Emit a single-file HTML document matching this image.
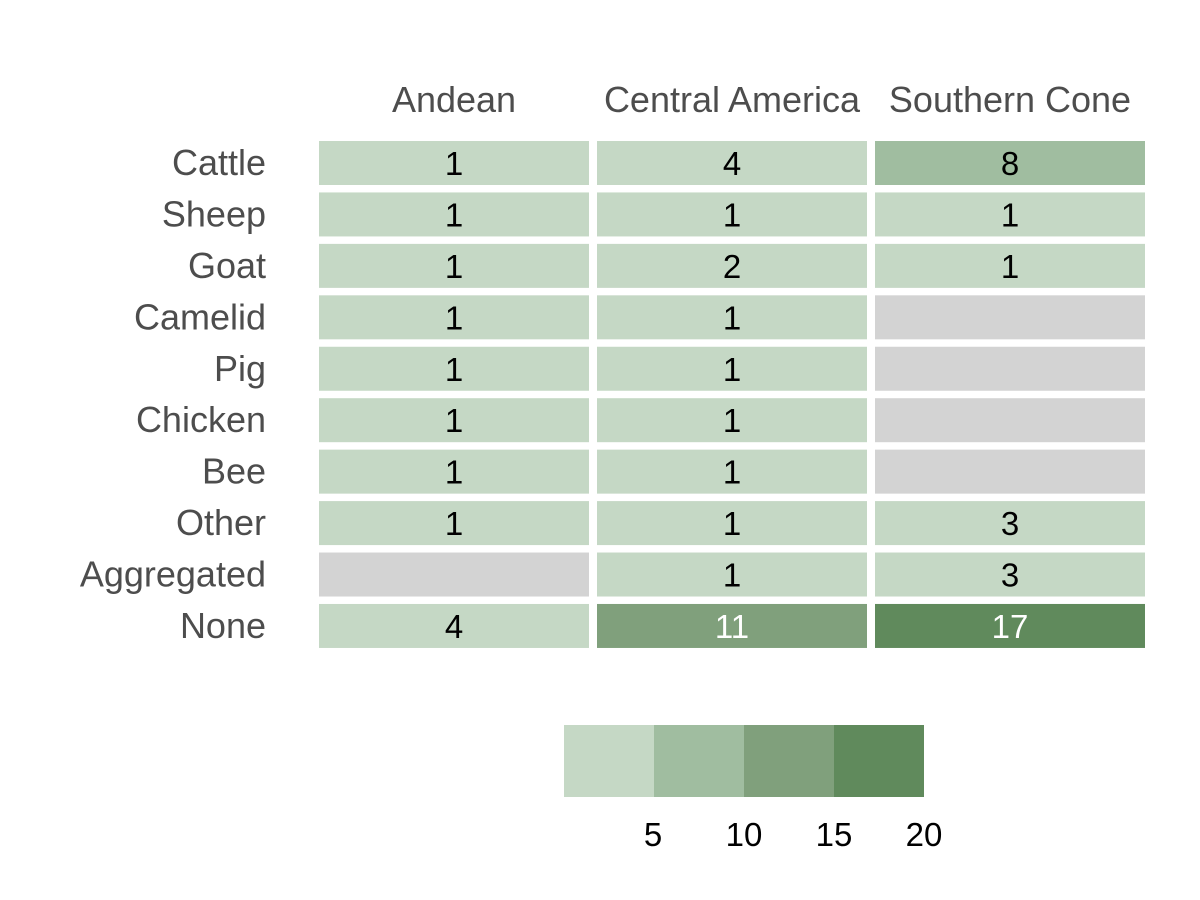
<!DOCTYPE html>
<html><head><meta charset="utf-8"><style>
html,body{margin:0;padding:0;background:#fff;}
svg{display:block;font-family:"Liberation Sans",sans-serif;}
</style></head><body>
<svg id="chart" width="1200" height="900" viewBox="0 0 1200 900"></svg>
<script>
const regions = ["Andean","Central America","Southern Cone"];
const categories = ["Cattle","Sheep","Goat","Camelid","Pig","Chicken","Bee","Other","Aggregated","None"];
const andeanValues = [1,1,1,1,1,1,1,1,null,4];
const centralValues = [4,1,2,1,1,1,1,1,1,11];
const southernValues = [8,1,1,null,null,null,null,3,3,17];
const legendBreaks = [5,10,15,20];
const legendTickLabels = ["5","10","15","20"];

const seriesByRegion = [andeanValues, centralValues, southernValues];
const palette = ["#c5d8c5","#a0bda0","#80a07c","#608a5c"];
const naColor = "#d3d3d3";
const svg = document.getElementById('chart');
const NS = "http://www.w3.org/2000/svg";
function mk(tag, attrs){const e=document.createElementNS(NS,tag);for(const k in attrs)e.setAttribute(k,attrs[k]);svg.appendChild(e);return e;}

const colX0 = 319, colPitch = 278, cellW = 270;
const rowY0 = 141, rowPitch = 51.44, cellH = 44;
const xCol = i => colX0 + i*colPitch;
const yRow = j => rowY0 + j*rowPitch;
function colorFor(v){ if(v==null) return naColor; for(let k=0;k<legendBreaks.length;k++){ if(v<=legendBreaks[k]) return palette[k]; } return palette[palette.length-1]; }

regions.forEach((r,i)=>{
  const t = mk('text',{x:xCol(i)+cellW/2,y:112,'text-anchor':'middle','font-size':'36','fill':'#4d4d4d'});
  
  
  t.textContent = r;
});
categories.forEach((c,j)=>{
  const t = mk('text',{x:266,y:yRow(j)+cellH/2+12,'text-anchor':'end','font-size':'36','fill':'#4d4d4d'});
  
  
  t.textContent = c;
});
seriesByRegion.forEach((vals,i)=>{
  vals.forEach((v,j)=>{
    const rc = mk('rect',{x:xCol(i),y:yRow(j),width:cellW,height:cellH,fill:colorFor(v)});
    
    
    if(v!=null){
      const t = mk('text',{x:xCol(i)+cellW/2,y:yRow(j)+cellH/2+12,'text-anchor':'middle','font-size':'33','fill': v>10 ? '#ffffff' : '#000000'});
      
      
      t.textContent = v;
    }
  });
});
const legX0 = 564, legW = 90, legY = 725, legH = 72;
legendBreaks.forEach((b,k)=>{
  const rc = mk('rect',{x:legX0+k*legW,y:legY,width:legW,height:legH,fill:palette[k]});
  
  
  const t = mk('text',{x:legX0+(k+1)*legW - (k==0?1:0),y:846,'text-anchor':'middle','font-size':'33','fill':'#000'});
  
  
  t.textContent = legendTickLabels[k];
});
</script>
</body></html>
